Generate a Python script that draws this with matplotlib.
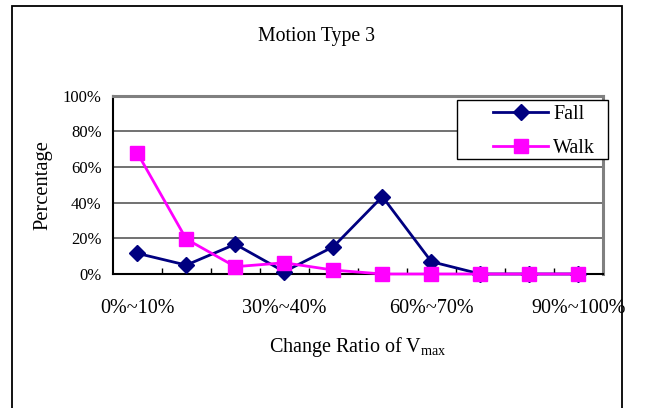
import matplotlib
matplotlib.use("Agg")
import matplotlib.pyplot as plt
from matplotlib.patches import Rectangle
from matplotlib.lines import Line2D

plt.rcParams['font.family'] = ['Liberation Serif', 'DejaVu Serif']
plt.rcParams['mathtext.fontset'] = 'custom'
plt.rcParams['mathtext.rm'] = 'Liberation Serif'

categories = ['0%~10%', '10%~20%', '20%~30%', '30%~40%', '40%~50%',
              '50%~60%', '60%~70%', '70%~80%', '80%~90%', '90%~100%']
fall = [11.6, 5.0, 16.7, 1.3, 15.3, 43.4, 6.9, 0.0, 0.0, 0.0]
walk = [68.0, 19.6, 4.1, 6.3, 2.2, 0.0, 0.0, 0.0, 0.0, 0.0]
yticks = [0, 20, 40, 60, 80, 100]
ytick_labels = ['0%', '20%', '40%', '60%', '80%', '100%']

W, H = 650, 408
fig = plt.figure(figsize=(W / 100, H / 100), dpi=100)
fig.patch.set_facecolor('white')

# outer chart border
fig.patches.append(Rectangle((11.6 / W, -0.05), (622 - 11.6) / W, 1 - 6 / H + 0.05,
                             transform=fig.transFigure, fill=False,
                             edgecolor='black', linewidth=1.3))

L, R, T, B = 112.7, 603, 95.7, 274
ax = fig.add_axes([L / W, 1 - B / H, (R - L) / W, (B - T) / H])
x = list(range(len(categories)))

ax.set_xlim(-0.5, len(categories) - 0.5)
ax.set_ylim(0, 100)
ax.set_yticks(yticks)
ax.set_yticklabels(ytick_labels, fontsize=12)
ax.tick_params(axis='y', length=0, pad=8)
ax.set_xticks(x)
ax.set_xticklabels([c if i % 3 == 0 else '' for i, c in enumerate(categories)],
                   fontsize=14.5)
ax.tick_params(axis='x', which='major', length=0, pad=18)
ax.set_xticks([i + 0.5 for i in x[:-1]], minor=True)
ax.tick_params(axis='x', which='minor', direction='in', length=4.5,
               width=1, color='black')
ax.grid(axis='y', color='#4a4a4a', linewidth=1.1)
ax.set_axisbelow(True)
for s in ('left', 'bottom'):
    ax.spines[s].set_color('black')
    ax.spines[s].set_linewidth(1.5)
for s in ('top', 'right'):
    ax.spines[s].set_color('#808080')
    ax.spines[s].set_linewidth(2.2)

ax.plot(x, fall, color='#000080', linewidth=2, marker='D', markersize=8,
        markeredgecolor='#000080', markerfacecolor='#000080', zorder=3, clip_on=False)
ax.plot(x, walk, color='#FF00FF', linewidth=2, marker='s', markersize=10,
        markeredgecolor='#FF00FF', markerfacecolor='#FF00FF', zorder=4, clip_on=False)

# legend
fig.patches.append(Rectangle((457 / W, 1 - 159 / H), (608 - 457) / W, (159 - 100) / H,
                             transform=fig.transFigure, facecolor='white',
                             edgecolor='black', linewidth=1, zorder=10))
handles = [Line2D([], [], color='#000080', linewidth=2, marker='D', markersize=8),
           Line2D([], [], color='#FF00FF', linewidth=2, marker='s', markersize=10)]
leg = fig.legend(handles, ['Fall', 'Walk'], loc='center left',
                 bbox_to_anchor=(483 / W, 1 - 131.5 / H), bbox_transform=fig.transFigure,
                 frameon=False, fontsize=14.5, borderpad=0, handlelength=2.73,
                 handletextpad=0.25, labelspacing=0.72)
leg.set_zorder(11)

fig.text(316 / W, 1 - 41 / H, 'Motion Type 3', ha='center', va='baseline', fontsize=14.2)
fig.text(43 / W, 1 - 185 / H, 'Percentage', ha='center', va='center',
         rotation=90, fontsize=14.8)
fig.text(358 / W, 1 - 352 / H, r'Change Ratio of V$_\mathregular{max}$',
         ha='center', va='baseline', fontsize=14.5)

fig.savefig('out.png', dpi=100)
